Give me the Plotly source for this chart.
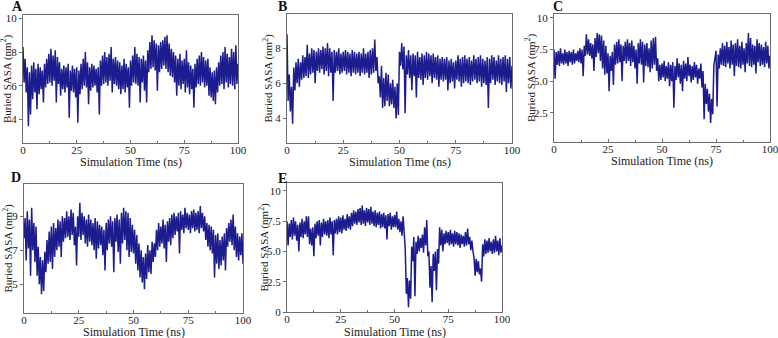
import plotly.graph_objects as go

# Time axis: 0 to 100 ns, step 0.5 ns (201 samples)
time_ns = [i * 0.5 for i in range(201)]

sasa_A = [
    8.3, 6.2, 7.6, 5.6, 7.1, 3.6, 6.8, 4.3, 7.2, 5.2,
    7.4, 5.6, 7.0, 4.6, 7.3, 5.5, 7.1, 5.8, 6.9, 5.0,
    7.3, 5.9, 7.6, 6.1, 7.9, 6.2, 8.2, 6.0, 7.8, 6.3,
    8.1, 5.0, 7.7, 6.1, 7.4, 5.4, 7.0, 5.8, 7.2, 5.6,
    7.1, 5.9, 7.3, 4.1, 6.9, 5.7, 7.2, 5.6, 7.0, 5.3,
    7.1, 3.8, 6.9, 5.5, 7.3, 5.8, 7.6, 6.0, 8.0, 5.9,
    7.4, 4.9, 7.1, 5.7, 7.3, 5.9, 7.2, 6.0, 7.0, 5.6,
    7.1, 4.3, 7.5, 6.0, 7.8, 6.1, 8.0, 6.2, 7.7, 6.0,
    7.9, 6.3, 8.3, 5.6, 7.6, 6.1, 7.7, 6.0, 7.5, 5.8,
    7.4, 5.5, 7.2, 5.8, 7.6, 5.6, 7.3, 5.9, 7.1, 4.7,
    7.5, 6.0, 7.8, 6.2, 8.3, 6.1, 7.9, 6.0, 7.7, 5.0,
    7.6, 6.2, 7.8, 5.7, 7.5, 5.0, 8.1, 6.8, 8.6, 7.0,
    9.0, 7.1, 8.7, 6.9, 8.5, 5.7, 8.4, 6.8, 8.6, 7.0,
    8.7, 7.2, 8.9, 7.0, 9.0, 6.8, 8.5, 6.6, 8.2, 6.5,
    8.0, 6.2, 7.8, 5.4, 7.6, 6.0, 7.9, 5.8, 7.5, 6.1,
    7.6, 5.6, 8.1, 5.9, 7.4, 5.5, 7.2, 5.8, 7.0, 4.7,
    7.3, 5.9, 7.6, 6.1, 7.8, 6.0, 8.0, 6.2, 7.7, 5.9,
    7.5, 6.0, 7.6, 5.4, 7.1, 5.3, 6.8, 5.1, 6.9, 4.9,
    7.1, 5.6, 7.4, 6.0, 7.8, 6.1, 8.0, 5.8, 8.3, 6.2,
    7.9, 5.9, 7.7, 6.1, 8.2, 6.0, 8.0, 5.8, 8.4, 6.1,
    7.3,
]

sasa_B = [
    8.8, 5.0, 6.5, 4.4, 5.8, 3.7, 6.9, 5.6, 7.2, 6.0,
    7.4, 5.8, 7.2, 6.2, 7.6, 6.3, 7.5, 6.4, 8.2, 6.3,
    7.7, 6.5, 8.0, 6.6, 7.9, 6.0, 7.8, 6.7, 8.0, 6.6,
    7.9, 6.8, 8.1, 6.5, 8.0, 6.7, 8.3, 6.4, 8.0, 6.6,
    7.8, 5.0, 7.9, 6.6, 7.8, 6.7, 8.0, 6.5, 7.7, 6.6,
    7.8, 6.7, 7.9, 6.5, 7.8, 6.6, 7.7, 6.4, 7.9, 6.6,
    7.8, 6.5, 7.7, 6.6, 7.8, 6.4, 7.7, 6.6, 8.0, 6.5,
    7.7, 6.6, 7.8, 6.3, 7.9, 6.5, 8.0, 6.6, 8.5, 6.7,
    7.5, 6.0, 6.4, 5.2, 7.0, 4.6, 6.3, 4.7, 6.6, 5.0,
    6.5, 4.7, 6.0, 4.8, 6.2, 4.6, 5.8, 4.0, 6.0, 4.2,
    7.8, 7.0, 8.3, 6.8, 8.1, 4.3, 7.6, 6.5, 7.9, 6.3,
    7.6, 5.6, 7.7, 6.4, 7.6, 5.2, 7.8, 6.3, 7.5, 6.2,
    7.7, 5.9, 7.6, 6.3, 7.8, 6.2, 7.7, 6.4, 7.6, 6.0,
    7.7, 6.3, 7.5, 6.2, 7.6, 5.8, 7.4, 6.2, 7.5, 6.1,
    7.4, 6.2, 7.5, 5.6, 7.3, 6.0, 7.4, 6.1, 7.2, 5.7,
    7.3, 6.2, 7.6, 6.1, 7.4, 5.8, 7.5, 6.0, 7.6, 6.1,
    7.4, 6.0, 7.5, 5.9, 7.3, 6.1, 7.6, 6.2, 7.4, 6.0,
    7.5, 6.1, 7.6, 5.8, 7.4, 6.0, 7.3, 5.9, 7.5, 4.6,
    7.4, 6.0, 7.6, 6.2, 7.5, 5.9, 7.3, 6.1, 7.6, 6.0,
    7.4, 5.9, 7.5, 6.1, 7.6, 5.5, 7.4, 6.0, 7.5, 5.7,
    7.0,
]

sasa_C = [
    7.5, 5.2, 7.3, 6.3, 7.4, 6.2, 7.6, 6.4, 7.2, 6.3,
    7.5, 6.4, 7.3, 6.2, 7.4, 6.5, 7.3, 6.3, 7.5, 6.4,
    7.2, 6.6, 7.4, 6.5, 7.6, 6.4, 7.5, 5.4, 7.8, 7.0,
    8.7, 7.1, 8.3, 7.0, 8.0, 6.8, 7.9, 5.8, 8.4, 6.9,
    8.8, 7.2, 8.7, 6.6, 8.6, 6.0, 8.2, 5.5, 7.8, 5.6,
    7.2, 4.2, 7.0, 5.8, 7.3, 4.7, 7.9, 6.3, 8.1, 6.4,
    8.3, 6.5, 7.9, 5.0, 7.8, 6.6, 8.1, 6.4, 8.3, 6.6,
    8.0, 6.2, 8.2, 6.5, 7.8, 6.0, 7.5, 4.8, 8.0, 6.4,
    8.3, 6.3, 8.1, 4.9, 7.9, 6.2, 8.0, 6.1, 7.6, 5.7,
    8.2, 6.0, 8.4, 6.3, 8.5, 5.8, 6.8, 5.0, 6.3, 5.1,
    6.4, 5.3, 6.6, 5.0, 6.2, 5.2, 6.5, 4.6, 6.3, 5.0,
    6.5, 2.9, 6.2, 5.1, 6.8, 5.3, 6.4, 4.8, 6.3, 4.2,
    6.6, 5.2, 6.4, 5.0, 6.9, 5.4, 6.3, 4.9, 6.2, 5.1,
    6.5, 5.3, 6.3, 4.8, 6.0, 5.2, 6.4, 4.5, 5.8, 2.0,
    4.8, 3.2, 4.4, 2.6, 4.0, 1.7, 3.6, 2.4, 6.2, 6.7,
    7.4, 3.0, 7.1, 6.0, 7.6, 6.3, 8.0, 6.2, 7.8, 6.1,
    8.1, 6.4, 7.7, 6.0, 8.2, 6.3, 7.9, 5.4, 8.0, 6.2,
    8.3, 6.1, 7.8, 6.0, 8.1, 6.3, 7.6, 5.7, 8.0, 6.4,
    8.8, 6.2, 8.4, 6.1, 7.9, 6.3, 7.8, 5.6, 8.3, 6.5,
    8.0, 6.2, 7.9, 6.3, 7.7, 6.1, 8.1, 6.4, 7.8, 6.0,
    7.0,
]

sasa_D = [
    7.7, 8.9, 6.4, 9.3, 7.1, 8.8, 5.5, 9.5, 7.0, 8.6,
    6.3, 8.4, 5.5, 7.2, 5.0, 6.6, 4.4, 6.4, 4.6, 6.9,
    5.7, 7.6, 6.2, 8.1, 6.3, 8.4, 5.9, 8.6, 6.6, 8.3,
    7.0, 8.8, 7.2, 8.7, 6.6, 9.0, 7.5, 8.9, 7.7, 9.3,
    7.8, 9.0, 7.6, 9.4, 7.9, 9.2, 7.3, 8.4, 6.1, 9.0,
    7.8, 9.8, 7.6, 9.2, 7.9, 9.0, 7.4, 8.8, 7.2, 9.1,
    7.5, 8.8, 7.3, 8.6, 7.0, 8.9, 6.5, 8.7, 7.1, 8.5,
    7.3, 8.4, 6.7, 8.2, 5.8, 8.6, 7.0, 8.8, 7.4, 9.0,
    7.2, 8.7, 5.7, 8.9, 7.5, 9.1, 6.9, 8.8, 6.2, 9.2,
    7.4, 9.5, 7.6, 9.3, 7.0, 9.2, 6.6, 8.9, 6.9, 8.5,
    6.8, 8.2, 6.2, 7.9, 5.8, 7.4, 5.4, 7.0, 5.1, 6.6,
    4.7, 6.8, 5.3, 7.3, 5.7, 7.0, 5.6, 7.5, 6.3, 7.4,
    6.6, 8.2, 7.0, 8.6, 7.2, 8.4, 7.4, 8.8, 7.1, 8.5,
    6.3, 8.7, 7.5, 8.9, 7.3, 9.1, 7.7, 9.2, 7.9, 9.0,
    8.1, 9.2, 6.8, 9.3, 8.2, 9.1, 8.0, 9.5, 8.3, 9.2,
    8.2, 9.1, 8.0, 9.3, 8.3, 9.4, 8.1, 9.2, 8.2, 9.3,
    8.0, 9.6, 8.3, 9.2, 8.1, 9.0, 7.6, 8.6, 7.2, 8.5,
    7.0, 8.4, 6.8, 8.2, 5.4, 7.9, 6.2, 8.0, 5.9, 7.6,
    6.1, 7.8, 6.4, 8.0, 5.8, 8.3, 7.2, 8.6, 7.5, 8.8,
    7.3, 9.1, 7.0, 8.4, 6.6, 8.0, 6.4, 7.8, 6.7, 8.0,
    6.2,
]

sasa_E = [
    7.5, 5.5, 7.3, 6.2, 7.6, 6.0, 7.8, 6.3, 7.5, 5.9,
    7.2, 5.0, 7.4, 6.2, 7.7, 6.1, 7.5, 6.4, 7.9, 6.2,
    7.9, 5.6, 6.9, 5.5, 7.0, 4.6, 7.3, 6.1, 7.5, 6.3,
    7.6, 5.5, 7.4, 6.2, 7.7, 6.4, 7.5, 6.3, 7.6, 6.1,
    7.8, 6.4, 7.5, 4.7, 7.6, 6.5, 7.7, 6.4, 7.9, 6.6,
    7.8, 6.5, 8.0, 6.8, 7.7, 6.7, 8.1, 6.9, 7.9, 6.8,
    8.2, 7.1, 8.4, 7.3, 8.3, 7.2, 8.5, 7.4, 8.6, 7.2,
    8.8, 7.3, 8.4, 7.1, 8.6, 7.4, 8.5, 7.2, 8.7, 7.3,
    8.3, 7.1, 8.4, 7.0, 8.2, 7.2, 8.3, 6.9, 8.1, 7.0,
    8.2, 6.9, 8.0, 6.0, 8.1, 7.1, 8.2, 6.8, 7.9, 7.0,
    8.0, 7.0, 8.3, 6.8, 7.7, 6.6, 7.5, 6.3, 7.9, 6.4,
    5.2, 1.5, 2.8, 0.4, 2.6, 1.1, 5.4, 4.2, 6.2, 1.3,
    5.8, 4.8, 6.3, 5.0, 6.1, 5.3, 6.4, 4.9, 7.0, 5.5,
    7.6, 4.6, 5.0, 2.0, 3.8, 0.8, 4.8, 3.4, 5.0, 1.8,
    5.2, 4.0, 7.0, 5.5, 6.8, 5.0, 6.5, 5.6, 6.7, 5.7,
    6.6, 5.5, 6.8, 5.6, 6.5, 5.4, 6.7, 5.6, 6.6, 5.5,
    6.5, 5.3, 6.4, 5.6, 6.3, 5.4, 6.6, 5.5, 6.9, 5.6,
    6.2, 5.1, 5.9, 5.0, 4.5, 3.0, 4.4, 3.3, 4.2, 3.1,
    3.6, 2.5, 5.6, 4.6, 6.0, 4.8, 5.9, 4.9, 6.1, 5.0,
    5.8, 4.8, 6.0, 4.9, 6.3, 5.0, 5.9, 4.7, 6.1, 4.9,
    5.5,
]

panel_labels = ["A", "B", "C", "D", "E"]
series = [sasa_A, sasa_B, sasa_C, sasa_D, sasa_E]
y_ranges = [[2.6, 10.2], [2.6, 9.95], [0.2, 10.3], [3.3, 10.9], [0, 10.66]]
y_ticks = [[4, 6, 8, 10], [4, 6, 8], [2.5, 5.0, 7.5, 10], [5, 7, 9], [0, 2.5, 5.0, 7.5, 10]]
y_ticktext = [["4", "6", "8", "10"], ["4", "6", "8"], ["2.5", "5.0", "7.5", "10"],
              ["5", "7", "9"], ["0", "2.5", "5.0", "7.5", "10"]]
x_ticks = [0, 25, 50, 75, 100]
x_title = "Simulation Time (ns)"
y_title = "Buried SASA (nm<sup>2</sup>)"

W, H = 778, 338
# plot boxes in pixels: (left, right, top, bottom)
boxes = [(23, 238, 15, 143), (287, 512, 14, 143), (554, 770, 14, 142),
         (24, 243, 184, 313), (287, 502, 183, 312)]
label_pos = [(17, 7), (282, 7), (558, 7), (16, 177), (282, 178)]
ytitle_x = [7, 268, 530, 8, 264]
xtitle_y = [162, 162, 161, 332, 332]

FONT = "Liberation Serif, Times New Roman, serif"
LINE = "#1c1c8e"
AX = "#6e6e6e"
TXT = "#222222"

fig = go.Figure()
layout = dict(
    width=W, height=H, margin=dict(l=0, r=0, t=0, b=0),
    paper_bgcolor="white", plot_bgcolor="white", showlegend=False,
    font=dict(family=FONT, size=11, color=TXT),
)
annotations = []
for i, (lab, ys) in enumerate(zip(panel_labels, series)):
    n = "" if i == 0 else str(i + 1)
    l, r, t, b = boxes[i]
    fig.add_trace(go.Scatter(x=time_ns, y=ys, mode="lines",
                             line=dict(color=LINE, width=1.5),
                             xaxis="x" + n, yaxis="y" + n, hoverinfo="skip"))
    layout["xaxis" + n] = dict(
        domain=[l / W, r / W], range=[0, 100], anchor="y" + n, automargin=False,
        tickvals=x_ticks, ticks="inside", ticklen=3, tickcolor=AX, ticklabelstandoff=-3,
        ticklabeloverflow="allow",
        minor=dict(tickvals=[12.5, 37.5, 62.5, 87.5], ticks="inside", ticklen=2, tickcolor=AX),
        showline=True, linecolor=AX, linewidth=1, mirror=True,
        showgrid=False, zeroline=False, tickfont=dict(family=FONT, size=11, color=TXT),
    )
    layout["yaxis" + n] = dict(
        domain=[1 - b / H, 1 - t / H], range=y_ranges[i], anchor="x" + n, automargin=False,
        tickvals=y_ticks[i], ticktext=y_ticktext[i], ticks="outside", ticklen=3, tickcolor=AX,
        ticklabeloverflow="allow",
        showline=True, linecolor=AX, linewidth=1, mirror=True,
        showgrid=False, zeroline=False, tickfont=dict(family=FONT, size=11, color=TXT),
    )
    lx, ly = label_pos[i]
    annotations.append(dict(text="<b>" + lab + "</b>", x=lx / W, y=1 - ly / H,
                            xref="paper", yref="paper", showarrow=False,
                            xanchor="center", yanchor="middle",
                            font=dict(family=FONT, size=14, color="#111")))
    annotations.append(dict(text=y_title, x=ytitle_x[i] / W, y=1 - ((t + b) / 2) / H,
                            xref="paper", yref="paper", showarrow=False, textangle=-90,
                            xanchor="center", yanchor="middle",
                            font=dict(family=FONT, size=11, color=TXT)))
    annotations.append(dict(text=x_title, x=((l + r) / 2) / W, y=1 - xtitle_y[i] / H,
                            xref="paper", yref="paper", showarrow=False,
                            xanchor="center", yanchor="middle",
                            font=dict(family=FONT, size=12, color=TXT)))
layout["annotations"] = annotations
fig.update_layout(**layout)
fig.write_html("out.html", config={"displayModeBar": False},
               post_script="document.body.style.margin='0';")
